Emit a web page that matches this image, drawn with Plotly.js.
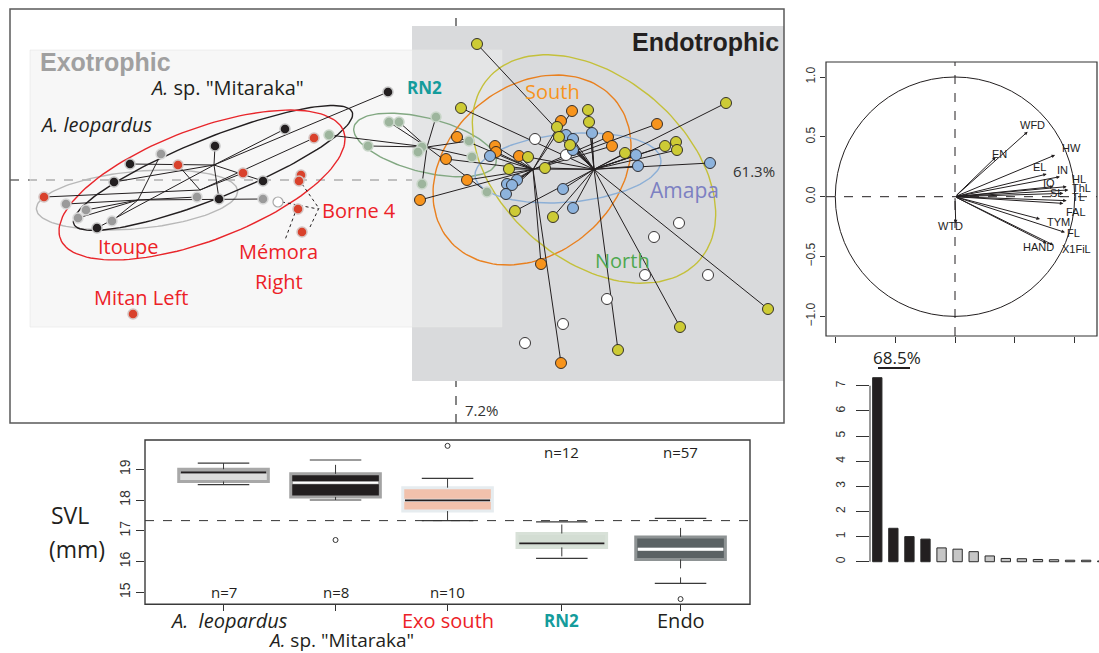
<!DOCTYPE html>
<html><head><meta charset="utf-8">
<script src="https://cdn.plot.ly/plotly-3.0.1.min.js"></script>
<style>html,body{margin:0;padding:0;background:#fff;}#chart{width:1099px;height:653px;}</style>
</head><body><div id="chart"></div>
<script>
// ---------- PCA scores (PC1 61.3%, PC2 7.2%) ----------
const pc1Label = '61.3%';
const pc2Label = '7.2%';
const leoX = [-2.95,-2.59,-1.93,-3.90,-3.70,-3.78,-3.44];
const leoY = [0.26,-0.17,-0.19,-0.24,-0.30,-0.38,-0.41];
const mitX = [-0.68,-1.71,-2.41,-3.26,-3.42,-1.93,-2.37,-3.59];
const mitY = [0.88,0.51,0.34,0.16,-0.02,-0.01,-0.19,-0.48];
const exoX = [-1.42,-2.78,-2.13,-1.55,-1.57,-4.12,-1.58,-1.54,-3.23];
const exoY = [0.42,0.15,0.07,0.05,-0.01,-0.17,-0.29,-0.52,-1.34];
const exoStar = [1,1,1,0,0,1,0,0,0];
const exoWhiteX = [-1.78];
const exoWhiteY = [-0.22];
const rn2X = [-0.67,-0.57,-0.20,-1.27,-0.88,-0.34,-0.38,0.13,0.16,-0.34,0.31];
const rn2Y = [0.58,0.58,0.63,0.45,0.34,0.33,0.28,0.39,0.23,-0.04,-0.12];
const northX = [0.21,0.05,2.70,1.32,1.33,1.01,1.03,1.14,0.72,0.53,0.89,1.69,2.09,2.20,2.21,0.59,0.97,2.24,1.62,3.12];
const northY = [1.36,0.72,0.77,0.70,0.58,0.53,0.43,0.35,0.23,0.11,0.12,0.27,0.34,0.38,0.30,-0.31,-0.37,-1.47,-1.70,-1.29];
const southX = [1.16,1.05,2.01,0.01,1.52,1.56,0.39,0.40,0.63,-0.10,0.11,-0.36,0.85,1.05];
const southY = [0.69,0.59,0.56,0.43,0.43,0.34,0.34,0.28,0.24,0.21,0.00,-0.20,-0.84,-1.83];
const amapaX = [1.10,1.17,1.36,0.34,1.17,1.80,1.82,2.54,0.61,0.51,0.56,0.50,1.07,1.17];
const amapaY = [0.45,0.41,0.47,0.24,0.30,0.25,0.14,0.17,0.00,-0.04,-0.05,-0.14,-0.09,-0.28];
const amapaStarTo = ['N','N','N','S','N','N','N','N','S','S','S','S','N','N'];
const endoWhiteX = [0.79,1.10,2.23,1.98,1.89,2.52,1.51,1.07,0.69];
const endoWhiteY = [0.41,0.25,-0.43,-0.57,-0.95,-0.95,-1.19,-1.44,-1.63];
// star centres (group means as drawn)
const leoCenter = [-3.18,-0.20];
const mitCenter = [-2.42,0.15];
const exoCenter = [-2.56,-0.10];
const rn2Center = [-0.29,0.33];
const southCenter = [0.77,0.105];
const northCenter = [1.38,0.107];
// ellipses: centre, semi-axes, angle (deg)
const ellNames = ['leo','mit','exo','rn2','south','north','amapa'];
const ellCX = [-3.19,-2.43,-2.54,-0.31,0.76,1.38,1.12];
const ellCY = [-0.20,0.12,-0.05,0.35,0.10,0.11,0.12];
const ellA = [1.01,1.50,1.515,0.733,1.086,1.394,0.933];
const ellB = [0.286,0.30,0.558,0.27,0.839,0.918,0.342];
const ellAng = [5.3,21.9,20.8,-14.4,40.3,-40.4,5.0];

// ---------- correlation circle ----------
const varNames = ['WFD','EN','HW','EL','IN','IO','HL','ThL','SL','TL','FAL','TYM','FL','HAND','X1FiL','WTD'];
const loadX = [0.607,0.34,0.836,0.766,0.877,0.822,0.933,0.947,0.905,0.933,0.905,0.71,0.919,0.766,0.822,0.006];
const loadY = [0.543,0.33,0.348,0.189,0.167,0.084,0.084,0.056,0.028,-0.033,-0.056,-0.187,-0.298,-0.39,-0.404,-0.223];
const labX = [0.646,0.368,0.975,0.71,0.90,0.788,1.038,1.058,0.85,1.03,1.011,0.863,0.988,0.696,1.017,-0.036];
const labY = [0.599,0.357,0.404,0.246,0.223,0.117,0.145,0.07,0.028,0.0,-0.125,-0.209,-0.30,-0.418,-0.44,-0.245];
const circleLabel = '68.5%';

// ---------- eigenvalues ----------
const eigen = [7.32,1.33,1.0,0.9,0.55,0.5,0.4,0.23,0.13,0.12,0.09,0.08,0.06,0.06,0.03,0.01];
const keptAxes = 4;

// ---------- SVL boxplot ----------
const boxGroups = ['A. leopardus','A. sp. "Mitaraka"','Exo south','RN2','Endo'];
const boxPos = [1,2,3,4.02,5.08];
const boxLo = [18.5,18.0,17.33,16.1,15.29];
const boxQ1 = [18.6,18.1,17.64,16.46,16.07];
const boxMed = [18.9,18.56,17.99,16.59,16.4];
const boxQ3 = [19.0,18.85,18.4,16.91,16.8];
const boxHi = [19.2,19.3,18.7,17.29,17.4];
const boxN = [7,8,10,12,57];
const outGroup = [1,2,4];
const outVal = [16.7,19.76,14.78];
const svlRef = 17.33;

// ---------- styles ----------
const W = 1099, H = 653;
const px = v => v / W, py = v => 1 - v / H;
const OS = 'Open Sans, Noto Sans, sans-serif';
const RF = 'Liberation Sans, Arial, sans-serif';
const RED = '#ec2227', DARK = '#231f20';
const ellColors = {leo:'#b8b8b8', mit:'#231f20', exo:'#e8262b', rn2:'#82a882', south:'#e9801f', north:'#c4c03a', amapa:'#8cafd6'};
const boxFill = ['#dcdcdc','#231f20','#f1c1ac','#d3ddd3','#5b6264'];
const boxLine = ['#a8a8a8','#a3a3a3','#e6ecef','#d8e1d8','#8e9394'];
const boxMedCol = ['#231f20','#ffffff','#231f20','#231f20','#ffffff'];
const boxLabCol = ['#231f20','#231f20',RED,'#149c9c','#231f20'];

const traces = [];

// ellipses
ellNames.forEach((n, i) => {
  const t = ellAng[i] * Math.PI / 180, xs = [], ys = [];
  for (let k = 0; k <= 140; k++) {
    const th = 2 * Math.PI * k / 140;
    const ex = ellA[i] * Math.cos(th), ey = ellB[i] * Math.sin(th);
    xs.push(ellCX[i] + ex * Math.cos(t) - ey * Math.sin(t));
    ys.push(ellCY[i] + ex * Math.sin(t) + ey * Math.cos(t));
  }
  traces.push({type:'scatter', mode:'lines', x:xs, y:ys, xaxis:'x', yaxis:'y',
    line:{color:ellColors[n], width:1.4}, hoverinfo:'skip'});
});

// star lines
function starSeg(c, xs, ys, keep) {
  const X = [], Y = [];
  xs.forEach((v, i) => { if (keep && !keep(i)) return; X.push(c[0], v, null); Y.push(c[1], ys[i], null); });
  return {X, Y};
}
const segs = [
  starSeg(leoCenter, leoX, leoY),
  starSeg(mitCenter, mitX, mitY),
  starSeg(exoCenter, exoX, exoY, i => exoStar[i] === 1),
  starSeg(rn2Center, rn2X, rn2Y),
  starSeg(southCenter, southX, southY),
  starSeg(northCenter, northX, northY),
  starSeg(southCenter, amapaX, amapaY, i => amapaStarTo[i] === 'S'),
  starSeg(northCenter, amapaX, amapaY, i => amapaStarTo[i] === 'N')
];
segs.forEach(s => traces.push({type:'scatter', mode:'lines', x:s.X, y:s.Y, xaxis:'x', yaxis:'y',
  line:{color:DARK, width:1}, hoverinfo:'skip', connectgaps:false}));

// leader lines for Borne 4 / Mémora Right labels
traces.push({type:'scatter', mode:'lines', xaxis:'x', yaxis:'y', hoverinfo:'skip',
  x:[-1.54,-1.38,null,-1.74,-1.38,null,-1.46,-1.37,null,-1.61,-1.71],
  y:[-0.04,-0.27,null,-0.22,-0.29,null,-0.47,-0.28,null,-0.33,-0.60],
  line:{color:DARK, width:1, dash:'dot'}});

function pts(x, y, fill, edge, ew, size) {
  traces.push({type:'scatter', mode:'markers', x, y, xaxis:'x', yaxis:'y', hoverinfo:'skip',
    marker:{color:fill, size:size, line:{color:edge, width:ew}}});
}
pts(leoX, leoY, '#9a9a9a', '#d9d9d9', 1.5, 10);
pts(mitX, mitY, '#231f20', '#c4c4c4', 1.5, 10);
pts(exoX, exoY, '#d9412b', '#d4c4c2', 1.5, 10);
pts(exoWhiteX, exoWhiteY, '#ffffff', '#a9a9a9', 1.2, 10);
pts(rn2X, rn2Y, '#9db59d', '#c9d6c9', 1.5, 10);
pts(endoWhiteX, endoWhiteY, '#ffffff', DARK, 0.9, 11);
pts(southX, southY, '#f7941d', DARK, 0.9, 11);
pts(amapaX, amapaY, '#8db3dd', DARK, 0.9, 11);
pts(northX, northY, '#cdcb35', DARK, 0.9, 11);

// ---------- scree bars ----------
traces.push({type:'bar', x:eigen.map((v, i) => i + 1), y:eigen, xaxis:'x4', yaxis:'y4', width:0.58,
  marker:{color:eigen.map((v, i) => i < keptAxes ? '#231f20' : '#c6c6c6'), line:{color:'#2a2a2a', width:1}},
  hoverinfo:'skip'});

// ---------- boxplot ----------
const whX = [], whY = [], capX = [], capY = [];
boxGroups.forEach((g, i) => {
  const p = boxPos[i];
  whX.push(p, p, null, p, p, null);
  whY.push(boxQ3[i], boxHi[i], null, boxQ1[i], boxLo[i], null);
  capX.push(p - 0.23, p + 0.23, null, p - 0.23, p + 0.23, null);
  capY.push(boxHi[i], boxHi[i], null, boxLo[i], boxLo[i], null);
});
traces.push({type:'scatter', mode:'lines', x:whX, y:whY, xaxis:'x3', yaxis:'y3', hoverinfo:'skip',
  line:{color:'#3a3a3a', width:1, dash:'dash'}});
traces.push({type:'scatter', mode:'lines', x:capX, y:capY, xaxis:'x3', yaxis:'y3', hoverinfo:'skip',
  line:{color:'#3a3a3a', width:1.2}});
boxGroups.forEach((g, i) => {
  traces.push({type:'box', x:[boxPos[i]], q1:[boxQ1[i]], median:[boxMed[i]], q3:[boxQ3[i]],
    lowerfence:[boxQ1[i]], upperfence:[boxQ3[i]], width:0.8, xaxis:'x3', yaxis:'y3',
    fillcolor:boxFill[i], line:{color:boxLine[i], width:3}, boxpoints:false, hoverinfo:'skip'});
  traces.push({type:'scatter', mode:'lines', x:[boxPos[i] - 0.38, boxPos[i] + 0.38], y:[boxMed[i], boxMed[i]],
    xaxis:'x3', yaxis:'y3', hoverinfo:'skip', line:{color:boxMedCol[i], width:i === 4 ? 3 : 1.8}});
});
traces.push({type:'scatter', mode:'markers', x:outGroup.map(g => boxPos[g]), y:outVal, xaxis:'x3', yaxis:'y3',
  hoverinfo:'skip', marker:{symbol:'circle-open', size:5, color:'#333', line:{width:1, color:'#333'}}});

// ---------- layout ----------
const shapes = [
  {type:'rect', xref:'x', yref:'y', x0:-0.44, x1:3.28, y0:-2.01, y1:1.54, fillcolor:'#d9dadc', line:{width:0}, layer:'below'},
  {type:'rect', xref:'x', yref:'y', x0:-4.26, x1:0.46, y0:-1.47, y1:1.30, fillcolor:'rgba(240,240,240,0.5)', line:{color:'rgba(230,230,230,0.6)', width:1}, layer:'below'},
  {type:'line', xref:'paper', yref:'y', x0:px(10), x1:px(784), y0:0, y1:0, line:{color:'#222', width:1.2, dash:'dash'}, layer:'below'},
  {type:'line', xref:'x', yref:'y domain', x0:0, x1:0, y0:0, y1:1, line:{color:'#222', width:1.1, dash:'dash'}, layer:'below'},
  {type:'rect', xref:'paper', yref:'paper', x0:px(10), x1:px(784), y0:py(423), y1:py(9), line:{color:'#5a5a5a', width:1.5}},
  {type:'circle', xref:'x2', yref:'y2', x0:-1, x1:1, y0:-1, y1:1, line:{color:DARK, width:1}},
  {type:'line', xref:'x2 domain', yref:'y2', x0:0, x1:1, y0:0, y1:0, line:{color:DARK, width:1, dash:'dash'}},
  {type:'line', xref:'x2', yref:'y2 domain', x0:0, x1:0, y0:0, y1:1, line:{color:DARK, width:1, dash:'dash'}},
  {type:'rect', xref:'paper', yref:'paper', x0:px(826), x1:px(1097), y0:py(336), y1:py(62), line:{color:'#333', width:1.2}},
  {type:'line', xref:'x4 domain', yref:'y4', x0:0, x1:0, y0:0, y1:7, line:{color:'#333', width:1}},
  {type:'line', xref:'paper', yref:'paper', x0:px(878), x1:px(910), y0:py(368), y1:py(368), line:{color:DARK, width:2}},
  {type:'line', xref:'x3 domain', yref:'y3', x0:0, x1:1, y0:svlRef, y1:svlRef, line:{color:'#333', width:1, dash:'dash'}},
  {type:'rect', xref:'paper', yref:'paper', x0:px(145), x1:px(750), y0:py(604.3), y1:py(440), line:{color:'#3a3a3a', width:1.4}}
];

const ann = [];
function A(text, x, y, opt) { ann.push(Object.assign({text, x, y, xref:'x', yref:'y', showarrow:false,
  xanchor:'center', yanchor:'middle', font:{family:OS, size:20, color:DARK}}, opt || {})); }
A('<b>Exotrophic</b>', -4.18, 1.18, {xanchor:'left', font:{family:RF, size:25, color:'#a0a0a0'}});
A('<b>Endotrophic</b>', 3.25, 1.38, {xanchor:'right', font:{family:RF, size:25, color:DARK}});
A('<i>A.</i> sp. "Mitaraka"', -3.08, 0.92, {xanchor:'left'});
A('<i>A. leopardus</i>', -4.18, 0.55, {xanchor:'left'});
A('<b>RN2</b>', -0.51, 0.92, {xanchor:'left', font:{family:OS, size:17, color:'#149c9c'}});
A('South', 0.96, 0.88, {font:{family:OS, size:20, color:'#f7941d'}});
A('Amapa', 2.28, -0.10, {font:{family:OS, size:21, color:'#7c80c2'}});
A('North', 1.66, -0.80, {font:{family:OS, size:20, color:'#4ea84f'}});
A('Borne 4', -1.36, -0.31, {xanchor:'left', font:{family:OS, size:20, color:RED}});
A('Itoupe', -3.28, -0.67, {font:{family:OS, size:20, color:RED}});
A('Mémora', -1.78, -0.72, {font:{family:OS, size:20, color:RED}});
A('Right', -1.77, -1.01, {font:{family:OS, size:20, color:RED}});
A('Mitan Left', -3.15, -1.17, {font:{family:OS, size:20, color:RED}});
A(pc1Label, 3.21, 0.09, {xanchor:'right', font:{family:OS, size:15, color:'#333'}});
A(pc2Label, 0.07, -2.30, {xanchor:'left', font:{family:OS, size:15, color:'#333'}});

varNames.forEach((v, i) => {
  ann.push({x:loadX[i], y:loadY[i], ax:0, ay:0, xref:'x2', yref:'y2', axref:'x2', ayref:'y2', text:'',
    showarrow:true, arrowhead:2, arrowsize:0.7, arrowwidth:1, arrowcolor:DARK, standoff:0, startstandoff:0});
  ann.push({x:labX[i], y:labY[i], xref:'x2', yref:'y2', text:v, showarrow:false, xanchor:'center', yanchor:'middle',
    font:{family:RF, size:11, color:'#222'}});
});
function P(text, x, y, font, opt) { ann.push(Object.assign({text, x:px(x), y:py(y), xref:'paper', yref:'paper',
  showarrow:false, xanchor:'center', yanchor:'middle', font}, opt || {})); }
P(circleLabel, 896.7, 357.5, {family:OS, size:17, color:DARK});

const boxLabHtml = ['<i>A.  leopardus</i>', '<i>A.</i> sp. "Mitaraka"', 'Exo south', '<b>RN2</b>', 'Endo'];
boxGroups.forEach((g, i) => {
  ann.push({text:boxLabHtml[i], x:boxPos[i] + (i < 2 ? 0.05 : 0), y:i === 1 ? py(640) : py(620), xref:'x3', yref:'paper',
    xanchor:'center', yanchor:'middle', showarrow:false, font:{family:OS, size:i === 3 ? 17 : (i === 1 ? 19 : 20), color:boxLabCol[i]}});
  ann.push({text:'n=' + boxN[i], x:boxPos[i], y:i < 3 ? py(592) : py(452), xref:'x3', yref:'paper',
    xanchor:'center', yanchor:'middle', showarrow:false, font:{family:OS, size:15, color:DARK}});
});
P('SVL', 70, 515, {family:OS, size:23, color:DARK});
P('(mm)', 77, 549, {family:OS, size:23, color:DARK});

const noAx = {showgrid:false, zeroline:false, showticklabels:false, ticks:'', showline:false};
const layout = {
  width:W, height:H, margin:{l:0, r:0, t:0, b:0}, paper_bgcolor:'#fff', plot_bgcolor:'rgba(0,0,0,0)',
  showlegend:false, hovermode:false,
  xaxis:Object.assign({domain:[px(10), px(784)], range:[-4.46, 3.28], anchor:'y'}, noAx),
  yaxis:Object.assign({domain:[py(423), py(9)], range:[-2.43, 1.71], anchor:'x'}, noAx),
  xaxis2:{domain:[px(826), px(1097)], range:[-1.0777, 1.1863], anchor:'y2', showgrid:false, zeroline:false,
    showline:false, tickvals:[-1, -0.5, 0, 0.5, 1], ticks:'outside', ticklen:6, tickcolor:'#333', showticklabels:false},
  yaxis2:{domain:[py(336), py(62)], range:[-1.1637, 1.1253], anchor:'x2', showgrid:false, zeroline:false,
    showline:false, tickvals:[-1, -0.5, 0, 0.5, 1], tickformat:'.1f', ticks:'outside', ticklen:5, tickcolor:'#333',
    tickangle:-90, tickfont:{family:RF, size:12, color:'#333'}},
  xaxis3:{domain:[px(145), px(750)], range:[0.299, 5.70], anchor:'y3', showgrid:false, zeroline:false,
    showline:false, tickvals:boxPos, ticks:'outside', ticklen:6, tickcolor:'#333', showticklabels:false},
  yaxis3:{domain:[py(604.3), py(440)], range:[14.61, 19.95], anchor:'x3', showgrid:false, zeroline:false,
    showline:false, tickvals:[15, 16, 17, 18, 19], ticks:'outside', ticklen:8, tickcolor:'#333',
    tickangle:-90, tickfont:{family:RF, size:14, color:'#333'}},
  xaxis4:Object.assign({domain:[px(870), 1], range:[0.546, 14.8], anchor:'y4'}, noAx),
  yaxis4:{domain:[py(565), py(372)], range:[-0.13, 7.546], anchor:'x4', showgrid:false, zeroline:false,
    showline:false, tickvals:[0, 1, 2, 3, 4, 5, 6, 7], ticks:'outside', ticklen:13, tickcolor:'#333',
    tickangle:-90, ticklabelstandoff:6, tickfont:{family:RF, size:12, color:'#333'}},
  shapes, annotations:ann
};
Plotly.newPlot('chart', traces, layout, {displayModeBar:false, staticPlot:true});
</script></body></html>
